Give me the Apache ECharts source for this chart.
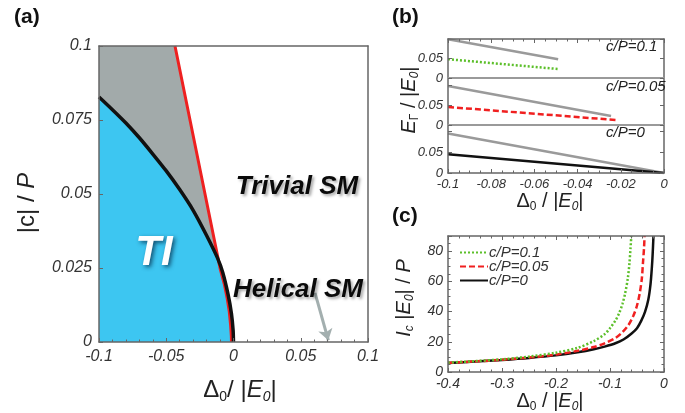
<!DOCTYPE html>
<html><head><meta charset="utf-8">
<script src="https://cdn.jsdelivr.net/npm/echarts@6/dist/echarts.min.js"></script>
<style>html,body{margin:0;padding:0;background:#fff}#c{width:685px;height:413px}</style>
</head><body><div id="c"></div>
<script>
// ---------- Panel (a): phase diagram ----------
const aXRange = [-0.1, 0.1];
const aYRange = [0, 0.1];
// black TI boundary (Delta0/|E0|, |c|/P)
const aTIBoundary = [[-0.1,0.0828],[-0.09,0.0785],[-0.08,0.074],[-0.07,0.069],[-0.06,0.0635],[-0.05,0.0578],[-0.04,0.0515],[-0.03,0.0445],[-0.02,0.036],[-0.012,0.0285],[-0.008,0.0235],[-0.004,0.016],[-0.0015,0.0095],[-0.0003,0.004],[0,0]];
// red boundary (trivial SM)
const aRedBoundary = [[-0.0435,0.1],[-0.0098,0.0245],[-0.0068,0.0195],[-0.0048,0.015],[-0.0032,0.0105],[-0.0022,0.006],[-0.0016,0.002],[-0.0015,0]];
// upper envelope of the grey region
const aGreyEnvelope = [[-0.1,0.1],[-0.0435,0.1],[-0.0098,0.0245],[0,0]];
// arrow pointing to the helical SM line
const aArrow = [[0.0606,0.0166],[0.0705,0.0006]];

// ---------- Panel (b): E_Gamma vs Delta0 ----------
const bXRange = [-0.1, 0];
const bTopGrey  = [[-0.1,0.097],[-0.049,0.047]];
const bTopGreen = [[-0.1,0.047],[-0.049,0.0225]];
const bMidGrey  = [[-0.1,0.0975],[-0.0245,0.0225]];
const bMidRed   = [[-0.1,0.045],[-0.0224,0.0125]];
const bBotGrey  = [[-0.1,0.094],[0,0]];
const bBotBlack = [[-0.1,0.0445],[0,0]];
const bPanelMax = [0.0975, 0.1175, 0.114];
const bLabels = ['c/P=0.1','c/P=0.05','c/P=0'];

// ---------- Panel (c): I_c vs Delta0 ----------
const cNames = ['c/P=0.1','c/P=0.05','c/P=0'];
const cGreen = [[-0.4,6.2],[-0.35,7.2],[-0.3,8.4],[-0.25,10.2],[-0.2,12.8],[-0.16,16.0],[-0.13,20.5],[-0.11,25],[-0.1,29],[-0.09,34],[-0.083,39],[-0.077,45],[-0.072,52],[-0.067,62],[-0.064,72],[-0.062,82],[-0.0605,90]];
const cRed   = [[-0.4,6.0],[-0.35,7.0],[-0.3,8.1],[-0.25,9.6],[-0.2,11.5],[-0.16,14.0],[-0.13,16.5],[-0.11,19.0],[-0.09,22.5],[-0.078,26],[-0.066,31],[-0.057,37],[-0.05,44],[-0.045,52],[-0.041,62],[-0.039,72],[-0.037,82],[-0.036,90]];
const cBlack = [[-0.4,6.0],[-0.35,6.9],[-0.3,8.0],[-0.25,9.3],[-0.2,11.0],[-0.16,13.0],[-0.13,15.0],[-0.11,16.8],[-0.09,19.0],[-0.075,21.5],[-0.06,25.5],[-0.05,29],[-0.042,34],[-0.035,40],[-0.029,48],[-0.025,58],[-0.0225,69],[-0.021,78],[-0.0195,90]];

const FONT = '"Liberation Sans", Arial, sans-serif';
const FRAME = '#666';

function ax(o){
  const base = {type:'value', splitLine:{show:false}, z:6,
    axisLine:{show:true,onZero:false,lineStyle:{color:FRAME,width:1.5}},
    axisTick:{show:false}, minorTick:{show:false}, axisLabel:{show:false}};
  return Object.assign(base, o);
}
const tick = {show:true, inside:true, length:4, lineStyle:{color:FRAME,width:1}};
function minor(n){ return {show:true, splitNumber:n, length:2.5, lineStyle:{color:FRAME,width:1}}; }
function lab(size, margin){ return {show:true, fontStyle:'italic', fontSize:size, color:'#333', fontFamily:FONT, margin:margin}; }
function bLab(){
  return Object.assign(lab(13,5), {showMaxLabel:false, formatter:function(v){
    if (Math.abs(v) < 1e-9) return '0';
    if (Math.abs(v-0.05) < 1e-9) return '0.05';
    return '';
  }});
}

const grids = [
  {left:99, top:46, width:269, height:296},
  {left:448, top:39, width:216, height:39},
  {left:448, top:78, width:216, height:47},
  {left:448, top:125, width:216, height:48},
  {left:448, top:236, width:216, height:136}
];

const xAxis = [
  ax({gridIndex:0, min:aXRange[0], max:aXRange[1], interval:0.05, axisTick:tick, minorTick:minor(5), axisLabel:lab(16,7)}),
  ax({gridIndex:0, position:'top', min:aXRange[0], max:aXRange[1]}),
  ax({gridIndex:1, min:bXRange[0], max:bXRange[1], axisLine:{show:true,onZero:false,lineStyle:{color:'#9a9a9a',width:2}}}),
  ax({gridIndex:1, position:'top', min:bXRange[0], max:bXRange[1], interval:0.02, axisTick:tick, minorTick:minor(4)}),
  ax({gridIndex:2, min:bXRange[0], max:bXRange[1], axisLine:{show:true,onZero:false,lineStyle:{color:'#9a9a9a',width:2}}}),
  ax({gridIndex:3, min:bXRange[0], max:bXRange[1], interval:0.02, axisTick:tick, minorTick:minor(4), axisLabel:lab(13,5)}),
  ax({gridIndex:4, min:-0.4, max:0, interval:0.1, axisTick:tick, minorTick:minor(5), axisLabel:lab(14,5)}),
  ax({gridIndex:4, position:'top', min:-0.4, max:0, interval:0.1, axisTick:tick, minorTick:minor(5)})
];
const yAxis = [
  ax({gridIndex:0, min:aYRange[0], max:aYRange[1], interval:0.025, axisTick:tick, axisLabel:lab(16,7)}),
  ax({gridIndex:0, position:'right', min:aYRange[0], max:aYRange[1]}),
  ax({gridIndex:1, min:0, max:bPanelMax[0], interval:0.05, axisTick:tick, axisLabel:bLab()}),
  ax({gridIndex:1, position:'right', min:0, max:bPanelMax[0], interval:0.05, axisTick:tick}),
  ax({gridIndex:2, min:0, max:bPanelMax[1], interval:0.05, axisTick:tick, axisLabel:bLab()}),
  ax({gridIndex:2, position:'right', min:0, max:bPanelMax[1], interval:0.05, axisTick:tick}),
  ax({gridIndex:3, min:0, max:bPanelMax[2], interval:0.05, axisTick:tick, axisLabel:bLab()}),
  ax({gridIndex:3, position:'right', min:0, max:bPanelMax[2], interval:0.05, axisTick:tick}),
  ax({gridIndex:4, min:0, max:90, interval:20, axisTick:tick, minorTick:minor(4), axisLabel:Object.assign(lab(14,5),{showMaxLabel:false, formatter:function(v){return v>85?'':String(v);}})}),
  ax({gridIndex:4, position:'right', min:0, max:90, interval:20, axisTick:tick, minorTick:minor(4)})
];

function ln(name, xi, yi, data, color, width, type, z, extra){
  return Object.assign({type:'line', name:name, xAxisIndex:xi, yAxisIndex:yi, data:data, symbol:'none',
    lineStyle:{color:color, width:width, type:type||'solid'}, itemStyle:{color:color}, z:z||3, silent:true}, extra||{});
}

const series = [
  ln('aGrey',0,0,aGreyEnvelope,'#a2aaaa',0,'solid',1,{lineStyle:{width:0,opacity:0},areaStyle:{color:'#a2aaaa',opacity:1}}),
  ln('aBlue',0,0,aTIBoundary,'#3dc6f1',0,'solid',2,{smooth:0.25,lineStyle:{width:0,opacity:0},areaStyle:{color:'#3dc6f1',opacity:1}}),
  ln('aRed',0,0,aRedBoundary,'#ee2020',3,'solid',3),
  ln('aBlack',0,0,aTIBoundary,'#111',3.5,'solid',4,{smooth:0.25}),
  {type:'line', name:'aArrow', xAxisIndex:0, yAxisIndex:0, data:[], silent:true, z:5,
   markLine:{silent:true, symbol:['none','arrow'], symbolSize:11, label:{show:false},
     lineStyle:{color:'#a3afaf', width:3, type:'solid'},
     data:[[{coord:aArrow[0]},{coord:aArrow[1]}]]}},
  ln('bTopGrey',2,2,bTopGrey,'#9a9a9a',2.5,'solid',3),
  ln('bTopGreen',2,2,bTopGreen,'#5cbf2a',2.5,[2,2],3),
  ln('bMidGrey',4,4,bMidGrey,'#9a9a9a',2.5,'solid',3),
  ln('bMidRed',4,4,bMidRed,'#f02020',2.5,[6,3],3),
  ln('bBotGrey',5,6,bBotGrey,'#9a9a9a',2.5,'solid',3),
  ln('bBotBlack',5,6,bBotBlack,'#111',2.5,'solid',3),
  ln(cNames[2],6,8,cBlack,'#111',2.5,'solid',3,{smooth:0.3}),
  ln(cNames[1],6,8,cRed,'#f02020',2.5,[6,3],3,{smooth:0.3}),
  ln(cNames[0],6,8,cGreen,'#5cbf2a',2.5,[2,2],3,{smooth:0.3})
];

function txt(x,y,text,font,extra){
  return {type:'text', x:x, y:y, z:100, silent:true,
    style:Object.assign({text:text, font:font, fill:'#111', textAlign:'left', textVerticalAlign:'middle'}, extra||{})};
}
const base24 = {fontSize:24, fontFamily:FONT, lineHeight:28, verticalAlign:'middle'};
const base20 = {fontSize:20, fontFamily:FONT, lineHeight:24, verticalAlign:'middle'};
function richSet(b, subSize, subLH){
  return {
    n:Object.assign({},b),
    i:Object.assign({},b,{fontStyle:'italic'}),
    s:Object.assign({},b,{fontSize:subSize,lineHeight:subLH,verticalAlign:'bottom'}),
    si:Object.assign({},b,{fontSize:subSize,lineHeight:subLH,verticalAlign:'bottom',fontStyle:'italic'})
  };
}
const rich24 = richSet(base24, 14, 12);
const rich20 = richSet(base20, 12, 10);

const graphic = [
  txt(14,17,'(a)','bold 21px '+FONT),
  txt(392,17,'(b)','bold 21px '+FONT),
  txt(392,216,'(c)','bold 21px '+FONT),
  txt(297,187,'Trivial SM','italic bold 26px '+FONT,{textAlign:'center',fill:'#0a0a0a',textShadowColor:'rgba(0,0,0,0.35)',textShadowBlur:3,textShadowOffsetX:2,textShadowOffsetY:2}),
  txt(298,290,'Helical SM','italic bold 26px '+FONT,{textAlign:'center',fill:'#0a0a0a',textShadowColor:'rgba(0,0,0,0.35)',textShadowBlur:3,textShadowOffsetX:2,textShadowOffsetY:2}),
  txt(154,253,'TI','italic bold 42px '+FONT,{textAlign:'center',fill:'#ffffff',textShadowColor:'rgba(10,60,90,0.85)',textShadowBlur:4,textShadowOffsetX:2,textShadowOffsetY:2}),
  txt(606,47,bLabels[0],'italic 15px '+FONT,{fill:'#222'}),
  txt(606,87,bLabels[1],'italic 15px '+FONT,{fill:'#222'}),
  txt(606,133,bLabels[2],'italic 15px '+FONT,{fill:'#222'}),
  {type:'text', x:240, y:390, z:100, silent:true, style:{text:'{n|Δ}{s|0}{n|/ |}{i|E}{si|0}{n||}', rich:rich24, fill:'#222', textAlign:'center', textVerticalAlign:'middle'}},
  {type:'text', x:27, y:203, rotation:Math.PI/2, z:100, silent:true, style:{text:'{n||c| / }{i|P}', rich:rich24, fill:'#222', textAlign:'center', textVerticalAlign:'middle'}},
  {type:'text', x:550, y:201, z:100, silent:true, style:{text:'{n|Δ}{s|0}{n| / |}{i|E}{si|0}{n||}', rich:rich20, fill:'#222', textAlign:'center', textVerticalAlign:'middle'}},
  {type:'text', x:550, y:401, z:100, silent:true, style:{text:'{n|Δ}{s|0}{n| / |}{i|E}{si|0}{n||}', rich:rich20, fill:'#222', textAlign:'center', textVerticalAlign:'middle'}},
  {type:'text', x:409, y:100, rotation:Math.PI/2, z:100, silent:true, style:{text:'{i|E}{s|Γ}{n| / |}{i|E}{si|0}{n||}', rich:rich20, fill:'#222', textAlign:'center', textVerticalAlign:'middle'}},
  {type:'text', x:404, y:298, rotation:Math.PI/2, z:100, silent:true, style:{text:'{i|I}{si|c}{n| |}{i|E}{si|0}{n|| / }{i|P}', rich:rich20, fill:'#222', textAlign:'center', textVerticalAlign:'middle'}}
];

const chart = echarts.init(document.getElementById('c'), null, {renderer:'canvas'});
chart.setOption({
  backgroundColor:'#fff',
  animation:false,
  grid:grids,
  xAxis:xAxis,
  yAxis:yAxis,
  legend:{data:cNames, left:454, top:240, orient:'vertical', itemWidth:28, itemHeight:12, itemGap:-1,
    selectedMode:false, itemStyle:{opacity:0},
    textStyle:{fontStyle:'italic', fontSize:15, color:'#333', fontFamily:FONT, padding:[0,0,0,-4]}},
  series:series,
  graphic:graphic
});
</script></body></html>
